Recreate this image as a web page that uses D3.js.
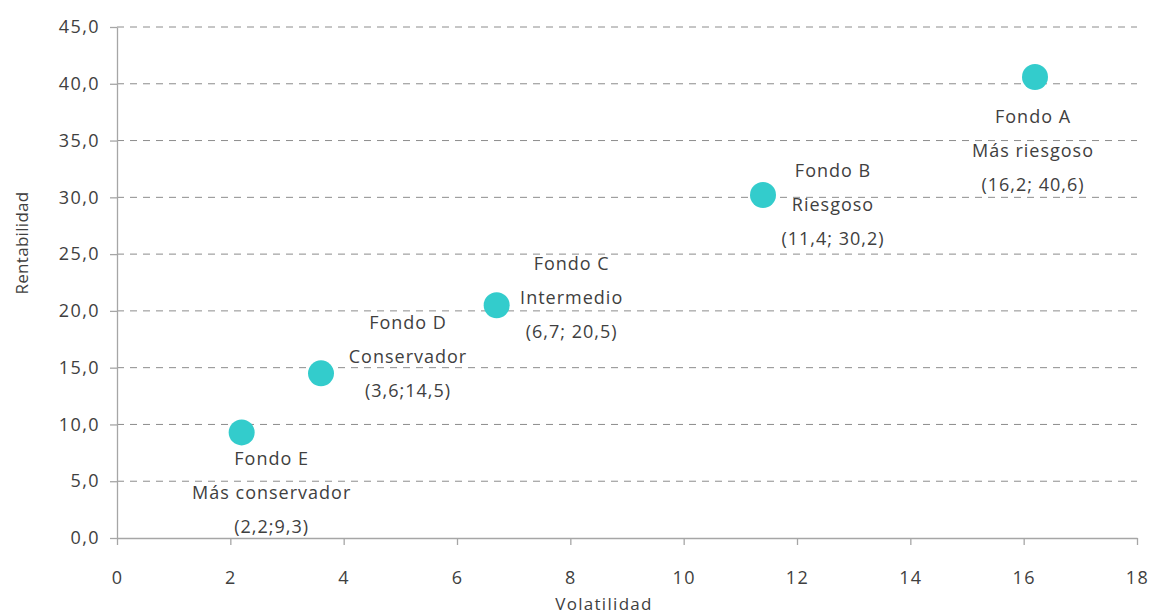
<!DOCTYPE html>
<html>
<head>
<meta charset="utf-8">
<script src="https://cdn.jsdelivr.net/npm/d3@7/dist/d3.min.js"></script>
<style>
  html, body { margin: 0; padding: 0; background: #fff; }
  svg { display: block; }
  text { font-family: "Open Sans", "Noto Sans", sans-serif; fill: #404040; }
</style>
</head>
<body>
<svg id="chart" width="1150" height="616"></svg>
<script>
// Fondos: volatilidad (x) y rentabilidad (y)
const fondos = ["Fondo A", "Fondo B", "Fondo C", "Fondo D", "Fondo E"];
const perfiles = ["Más riesgoso", "Riesgoso", "Intermedio", "Conservador", "Más conservador"];
const volatilidad = [16.2, 11.4, 6.7, 3.6, 2.2];
const rentabilidad = [40.6, 30.2, 20.5, 14.5, 9.3];
const etiquetasValor = ["(16,2; 40,6)", "(11,4; 30,2)", "(6,7; 20,5)", "(3,6;14,5)", "(2,2;9,3)"];
const xTicks = [0, 2, 4, 6, 8, 10, 12, 14, 16, 18];
const yTicks = [0, 5, 10, 15, 20, 25, 30, 35, 40, 45];

const svg = d3.select("#chart");
const margin = { left: 117, right: 13, top: 27, bottom: 78 };
const W = 1150, H = 616;

const x = d3.scaleLinear().domain([0, 18]).range([margin.left, W - margin.right]);
const y = d3.scaleLinear().domain([0, 45]).range([H - margin.bottom, margin.top]);

const fmt = v => d3.format(".1f")(v).replace(".", ",");

// Líneas de cuadrícula horizontales discontinuas
svg.append("g")
  .selectAll("line")
  .data(yTicks.filter(t => t > 0))
  .join("line")
  .attr("x1", x(0)).attr("x2", x(18))
  .attr("y1", d => y(d)).attr("y2", d => y(d))
  .attr("stroke", "#8c8c8c")
  .attr("stroke-width", 1)
  .attr("stroke-dasharray", "7,6");

// Eje Y
const yAxis = svg.append("g")
  .attr("transform", `translate(${x(0)},0)`)
  .call(d3.axisLeft(y).tickValues(yTicks).tickFormat(fmt).tickSize(7).tickSizeOuter(0).tickPadding(10));

// Eje X
const xAxis = svg.append("g")
  .attr("transform", `translate(0,${y(0)})`)
  .call(d3.axisBottom(x).tickValues(xTicks).tickFormat(d3.format("d")).tickSize(7).tickSizeOuter(0).tickPadding(26));

[yAxis, xAxis].forEach(g => {
  g.select(".domain").attr("stroke", "#a6a6a6").attr("stroke-width", 1.3);
  g.selectAll(".tick line").attr("stroke", "#a6a6a6").attr("stroke-width", 1.3);
  g.selectAll(".tick text")
    .style("font-family", "'Open Sans', 'Noto Sans', sans-serif")
    .style("font-size", "18px")
    .style("letter-spacing", "1.4px")
    .attr("fill", "#404040");
});

// Títulos de los ejes
svg.append("text")
  .attr("transform", `translate(28,243) rotate(-90)`)
  .attr("text-anchor", "middle")
  .style("font-size", "17px")
  .style("letter-spacing", "0.3px")
  .text("Rentabilidad");

svg.append("text")
  .attr("x", 604)
  .attr("y", 610)
  .attr("text-anchor", "middle")
  .style("font-size", "17px")
  .style("letter-spacing", "1.3px")
  .text("Volatilidad");

// Puntos
const datos = fondos.map((f, i) => ({
  fondo: f, perfil: perfiles[i], vx: volatilidad[i], vy: rentabilidad[i], etiqueta: etiquetasValor[i]
}));

svg.append("g")
  .selectAll("circle")
  .data(datos)
  .join("circle")
  .attr("cx", d => x(d.vx))
  .attr("cy", d => y(d.vy))
  .attr("r", 13)
  .attr("fill", "#33CCCC");

// Desplazamiento de cada etiqueta respecto a su punto (px)
const desplazamiento = [
  { dx: -2, dy: 40 },
  { dx: 70, dy: -24 },
  { dx: 75, dy: -42 },
  { dx: 87, dy: -51 },
  { dx: 30, dy: 26 }
];
const interlinea = 34;

const etiquetas = svg.append("g")
  .selectAll("text")
  .data(datos)
  .join("text")
  .attr("text-anchor", "middle")
  .style("font-size", "18px")
  .style("letter-spacing", "1px")
  .attr("transform", (d, i) => `translate(${x(d.vx) + desplazamiento[i].dx},${y(d.vy) + desplazamiento[i].dy})`);

etiquetas.each(function (d) {
  const t = d3.select(this);
  [d.fondo, d.perfil, d.etiqueta].forEach((linea, k) => {
    t.append("tspan")
      .attr("x", 0)
      .attr("y", k * interlinea)
      .attr("dy", "0.35em")
      .text(linea);
  });
});
</script>
</body>
</html>
